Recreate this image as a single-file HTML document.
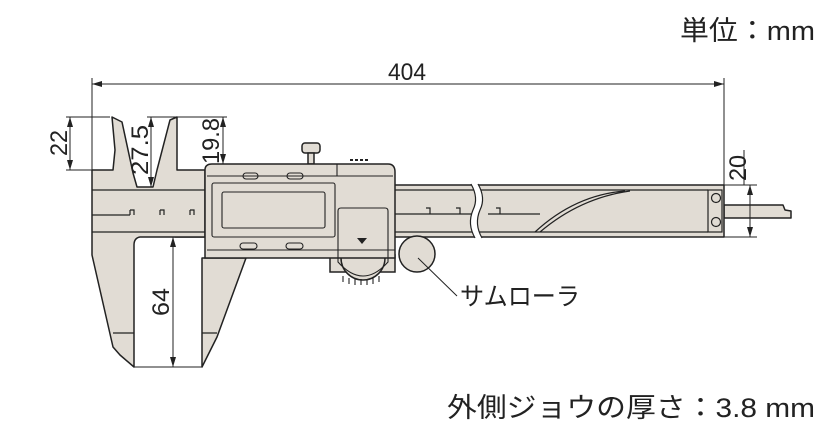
<!DOCTYPE html>
<html><head><meta charset="utf-8"><style>
html,body{margin:0;padding:0;background:#fff;width:837px;height:434px;overflow:hidden}
svg{display:block}
text{font-family:"Liberation Sans","Noto Sans CJK JP",sans-serif;fill:#222}
</style></head><body>
<svg width="837" height="434" viewBox="0 0 837 434" xmlns="http://www.w3.org/2000/svg">
<defs><marker id="a" viewBox="0 0 10 6" refX="10" refY="3" markerWidth="10" markerHeight="6" orient="auto-start-reverse" markerUnits="userSpaceOnUse"><path d="M0,0L10,3L0,6z" fill="#222"/></marker></defs>
<text x="680" y="40" font-size="27" textLength="135" lengthAdjust="spacingAndGlyphs">単位：mm</text>
<text x="447" y="417" font-size="27" textLength="368" lengthAdjust="spacingAndGlyphs">外側ジョウの厚さ：3.8 mm</text>
<g fill="#e1dcd4" stroke="#222" stroke-width="1.5" stroke-linejoin="round">
<path d="M724,205 L783,205 L785,210 L791,211 L791,218 L724,218 z"/>
<rect x="175" y="185" width="549" height="52"/>
<path d="M92,170 L113,170 L115,150 L112,117 L122,122 L133,173 L137,187 L153,187 L157,170 L170,120 L177,117 L177,170 L205,170 L205,237 L155,237 L140,237 Q134,238 134,245 L134,367 L120,355 L113,347 L92,255 z"/>
<path d="M202,258 L246,258 L217,337 L202,367 z"/>
</g>
<g fill="none" stroke="#222" stroke-width="1.2">
<line x1="92" y1="190" x2="205" y2="190"/><line x1="92" y1="232" x2="205" y2="232"/>
<line x1="395" y1="190" x2="708" y2="190"/><line x1="395" y1="232" x2="708" y2="232"/>
<path d="M92,215 L130,215 M130,210 v5 M160,210 v5 M190,210 v5 M130,210 h4 v5 M160,210 h4 v5 M190,210 h4 v5"/>
<path d="M395,214 L475,214 M426,208 h4 v6 M456,208 h4 v6 M496,208 h4 v6 M488,214 L540,214"/>
<path d="M535,232 Q575,195 625,191 M540,232 Q580,198 630,191"/>
<rect x="708" y="190" width="14" height="42"/>
<circle cx="716" cy="198" r="4.5"/><circle cx="716" cy="222" r="4.5"/>
<path d="M113,333 L134,333 M202,333 L217,333"/>
</g>
<path d="M471,184 Q479,198 473,210 Q467,224 475,238 L482,238 Q474,224 480,210 Q486,198 478,184 z" fill="#fff"/>
<path d="M471,184 Q479,198 473,210 Q467,224 475,238 M478,184 Q486,198 480,210 Q474,224 482,238" fill="none" stroke="#222" stroke-width="1.2"/>
<g fill="#e1dcd4" stroke="#222" stroke-width="1.5">
<rect x="302" y="143" width="18" height="10" rx="3"/>
<rect x="308" y="153" width="6" height="11"/>
<path d="M330,272 L395,272 L395,255 L330,255 z"/>
<circle cx="363" cy="258" r="22"/>
<path d="M205,170 Q205,164 212,164 L388,164 Q395,164 395,172 L395,258 L205,258 z"/>
<circle cx="417" cy="254" r="18"/>
</g>
<g fill="none" stroke="#222" stroke-width="1.1">
<path d="M343,276 v6 M349,278 v6 M355,279 v6 M361,279 v6 M367,279 v6 M373,278 v6 M379,276 v6"/>
<line x1="207" y1="176" x2="337" y2="176"/><line x1="207" y1="250" x2="395" y2="250"/>
<path d="M337,164 L337,176 M337,176 L393,176"/>
<rect x="212" y="183" width="123" height="54" rx="2"/>
<rect x="222" y="192" width="103" height="36" rx="2"/>
<rect x="243" y="173" width="15" height="6" rx="3"/><rect x="287" y="173" width="16" height="6" rx="3"/>
<rect x="240" y="243" width="17" height="6" rx="3"/><rect x="286" y="243" width="17" height="6" rx="3"/>
<path d="M338,247 L338,211 Q338,208 341,208 L385,208 Q388,208 388,211 L388,247"/>
<path d="M338,247 L338,262 Q363,290 388,262 L388,247"/>
</g>
<path d="M357,238 L367,238 L362,244 z" fill="#222"/>
<path d="M350,160 h3 M355,160 h3 M360,160 h3 M365,160 h3" stroke="#222" stroke-width="2"/>
<line x1="418" y1="258" x2="457" y2="296" stroke="#222" stroke-width="1"/>
<text x="460" y="305" font-size="25" textLength="120" lengthAdjust="spacingAndGlyphs">サムローラ</text>
<g stroke="#222" stroke-width="1" fill="none">
<line x1="92" y1="78" x2="92" y2="170"/><line x1="724" y1="78" x2="724" y2="185"/>
<line x1="92" y1="84" x2="724" y2="84" marker-start="url(#a)" marker-end="url(#a)"/>
<line x1="66" y1="117" x2="110" y2="117"/><line x1="66" y1="170" x2="92" y2="170"/>
<line x1="70" y1="117" x2="70" y2="170" marker-start="url(#a)" marker-end="url(#a)"/>
<line x1="147" y1="117" x2="177" y2="117"/>
<line x1="151" y1="117" x2="151" y2="187" marker-start="url(#a)" marker-end="url(#a)"/>
<line x1="177" y1="117" x2="227" y2="117"/>
<line x1="223" y1="117" x2="223" y2="164" marker-start="url(#a)" marker-end="url(#a)"/>
<line x1="173" y1="237" x2="173" y2="367" marker-start="url(#a)" marker-end="url(#a)"/>
<line x1="134" y1="367" x2="202" y2="367"/>
<line x1="724" y1="185" x2="757" y2="185"/><line x1="724" y1="237" x2="757" y2="237"/>
<line x1="750" y1="185" x2="750" y2="237" marker-start="url(#a)" marker-end="url(#a)"/>
<line x1="744" y1="150" x2="744" y2="185"/>
</g>
<g font-size="24">
<text x="388" y="80" textLength="38" lengthAdjust="spacingAndGlyphs">404</text>
<text transform="translate(67,143) rotate(-90)" text-anchor="middle" textLength="26" lengthAdjust="spacingAndGlyphs">22</text>
<text transform="translate(148,150) rotate(-90)" text-anchor="middle" textLength="50" lengthAdjust="spacingAndGlyphs">27.5</text>
<text transform="translate(219,141) rotate(-90)" text-anchor="middle" textLength="46" lengthAdjust="spacingAndGlyphs">19.8</text>
<text transform="translate(169,302) rotate(-90)" text-anchor="middle" textLength="28" lengthAdjust="spacingAndGlyphs">64</text>
<text transform="translate(746,168) rotate(-90)" text-anchor="middle" textLength="26" lengthAdjust="spacingAndGlyphs">20</text>
</g>
</svg>
</body></html>
